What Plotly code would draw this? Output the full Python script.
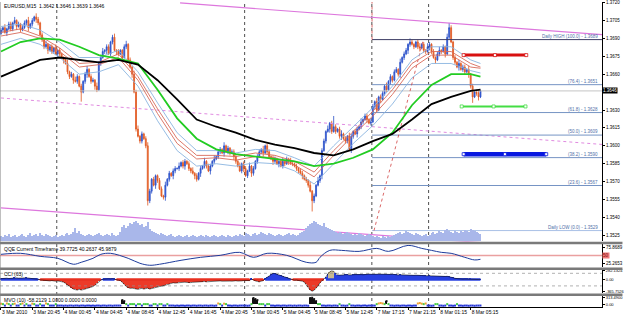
import plotly.graph_objects as go

# ------------------------------------------------------------------ data
closes = [
    1.3697, 1.3699, 1.3695, 1.3698, 1.3702, 1.3698, 1.3703, 1.3705, 1.3700, 1.3702,
    1.3697, 1.3699, 1.3703, 1.3705, 1.3699, 1.3702, 1.3705, 1.3708, 1.3706, 1.3703,
    1.3693, 1.3689, 1.3683, 1.3685, 1.3680, 1.3683, 1.3679, 1.3682, 1.3677, 1.3680,
    1.3677, 1.3674, 1.3672, 1.3669, 1.3662, 1.3658, 1.3660, 1.3655, 1.3654, 1.3658,
    1.3650, 1.3645, 1.3654, 1.3660, 1.3664, 1.3658, 1.3654, 1.3655, 1.3650, 1.3647,
    1.3669, 1.3674, 1.3679, 1.3680, 1.3683, 1.3677, 1.3687, 1.3691, 1.3680, 1.3679,
    1.3677, 1.3680, 1.3674, 1.3683, 1.3685, 1.3672, 1.3666, 1.3660, 1.3645, 1.3614,
    1.3608, 1.3604, 1.3610, 1.3606, 1.3600, 1.3554, 1.3562, 1.3572, 1.3567, 1.3575,
    1.3571, 1.3564, 1.3558, 1.3557, 1.3567, 1.3572, 1.3577, 1.3575, 1.3579, 1.3581,
    1.3581, 1.3583, 1.3586, 1.3583, 1.3587, 1.3585, 1.3581, 1.3579, 1.3577, 1.3575,
    1.3572, 1.3577, 1.3581, 1.3583, 1.3587, 1.3583, 1.3579, 1.3583, 1.3587, 1.3589,
    1.3591, 1.3595, 1.3597, 1.3594, 1.3600, 1.3595, 1.3598, 1.3594, 1.3595, 1.3591,
    1.3587, 1.3583, 1.3579, 1.3585, 1.3581, 1.3575, 1.3579, 1.3583, 1.3577, 1.3581,
    1.3587, 1.3591, 1.3595, 1.3597, 1.3594, 1.3600, 1.3595, 1.3591, 1.3589, 1.3587,
    1.3589, 1.3585, 1.3587, 1.3583, 1.3587, 1.3585, 1.3589, 1.3587, 1.3585, 1.3585,
    1.3583, 1.3581, 1.3579, 1.3577, 1.3575, 1.3572, 1.3571, 1.3567, 1.3562, 1.3554,
    1.3558, 1.3567, 1.3571, 1.3575, 1.3596, 1.3604, 1.3612, 1.3614, 1.3619, 1.3612,
    1.3616, 1.3612, 1.3614, 1.3608, 1.3610, 1.3606, 1.3604, 1.3608, 1.3597, 1.3608,
    1.3612, 1.3610, 1.3614, 1.3616, 1.3620, 1.3622, 1.3625, 1.3622, 1.3619, 1.3620,
    1.3633, 1.3637, 1.3630, 1.3641, 1.3639, 1.3644, 1.3650, 1.3647, 1.3654, 1.3658,
    1.3655, 1.3662, 1.3664, 1.3660, 1.3670, 1.3674, 1.3677, 1.3680, 1.3685, 1.3687,
    1.3685, 1.3683, 1.3687, 1.3683, 1.3682, 1.3685, 1.3680, 1.3679, 1.3683, 1.3685,
    1.3679, 1.3674, 1.3672, 1.3677, 1.3680, 1.3679, 1.3683, 1.3677, 1.3691, 1.3699,
    1.3687, 1.3674, 1.3670, 1.3666, 1.3669, 1.3664, 1.3666, 1.3662, 1.3664, 1.3660,
    1.3650, 1.3641, 1.3645, 1.3644, 1.3641, 1.3646,
]
first_open = 1.3694
wick_up_pips = ("2131221312" "1221312132" "1213122131" "2112312132" "1212312213"
                "2131221231" "2112312132" "3121232121" "1221312122" "1312212131"
                "2121312213" "1221312122" "2131221312" "1221312213" "2112312132"
                "1212212131" "2131221312" "9212312132" "1221312213" "2131221312"
                "1221312213" "2112312132" "1212312134" "2121312213" "121231")
wick_dn_pips = ("1213122131" "2112312132" "1221312213" "2131221312" "1812312132"
                "1212312213" "2131221312" "1221242213" "2112312132" "1212312213"
                "2131221312" "1221312213" "2112312132" "1212312213" "2131221312"
                "1221312219" "2112312132" "1212312213" "2131221312" "1221312213"
                "2112312132" "1212312213" "2131221312" "1221312213" "251231")
volumes = [
    250, 200, 300, 250, 350, 200, 250, 300, 200, 250, 300, 350, 250, 200, 300, 400, 250, 300, 350, 250,
    400, 300, 250, 350, 300, 250, 200, 250, 300, 200, 250, 300, 250, 350, 400, 300, 350, 450, 650, 400,
    500, 350, 300, 250, 300, 350, 300, 250, 300, 350, 400, 300, 250, 300, 350, 300, 250, 400, 300, 250,
    300, 450, 700, 800, 650, 750, 900, 850, 950, 1000, 900, 800, 850, 700, 750, 950, 600, 500, 450, 400,
    350, 300, 400, 350, 300, 250, 300, 350, 250, 200, 250, 300, 250, 200, 250, 300, 200, 250, 300, 250,
    200, 250, 300, 250, 200, 300, 250, 200, 250, 300, 250, 200, 250, 300, 250, 200, 300, 250, 200, 250,
    300, 250, 350, 300, 250, 400, 350, 300, 250, 350, 400, 300, 350, 450, 400, 350, 300, 400, 350, 300,
    250, 300, 350, 300, 250, 300, 350, 400, 300, 350, 300, 250, 300, 400, 450, 500, 650, 750, 850, 900,
    1000, 950, 850, 800, 750, 900, 700, 650, 600, 550, 500, 450, 400, 450, 400, 350, 400, 450, 400, 350,
    300, 350, 300, 400, 350, 300, 250, 300, 350, 300, 250, 200, 250, 200, 150, 250, 200, 150, 250, 200,
    250, 300, 350, 400, 450, 350, 400, 500, 450, 400, 350, 300, 400, 350, 300, 250, 300, 350, 250, 300,
    400, 450, 350, 400, 500, 450, 400, 550, 600, 500, 450, 400, 500, 450, 400, 500, 450, 550, 500, 450,
    600, 550, 500, 450, 400, 350,
]

x_tick_idx = [0, 16, 32, 48, 64, 80, 96, 112, 128, 144, 160, 176, 192, 208, 224, 240]
x_tick_text = ["3 Mar 2010", "3 Mar 20:45", "4 Mar 00:45", "4 Mar 04:45", "4 Mar 08:45",
               "4 Mar 12:45", "4 Mar 16:45", "4 Mar 20:45", "5 Mar 00:45", "5 Mar 04:45",
               "5 Mar 08:45", "5 Mar 12:45", "7 Mar 17:15", "7 Mar 21:15", "8 Mar 01:15",
               "8 Mar 05:15"]
price_ticks = [1.3720, 1.3705, 1.3690, 1.3675, 1.3660, 1.3630, 1.3615, 1.3600,
               1.3585, 1.3570, 1.3555, 1.3540, 1.3525]

ma_idx = [0, 10, 20, 30, 40, 50, 60, 70, 80, 90, 100, 110, 120, 130, 140, 150, 160,
          170, 180, 190, 200, 210, 220, 230, 240, 245]
ma_black = [1.3658, 1.3665, 1.3672, 1.3674, 1.3672, 1.3670, 1.3672, 1.3668, 1.3655, 1.3639,
            1.3622, 1.3616, 1.3611, 1.3605, 1.3601, 1.3598, 1.3594, 1.3592, 1.3597, 1.3604,
            1.3610, 1.3622, 1.3635, 1.3641, 1.3646, 1.3647]
ma_green = [1.3679, 1.3687, 1.3690, 1.3689, 1.3683, 1.3676, 1.3673, 1.3669, 1.3647, 1.3623,
            1.3606, 1.3597, 1.3593, 1.3591, 1.3589, 1.3587, 1.3583, 1.3585, 1.3590, 1.3597,
            1.3611, 1.3634, 1.3651, 1.3660, 1.3660, 1.3658]
band_blue_hi = [1.3700, 1.3702, 1.3697, 1.3687, 1.3674, 1.3674, 1.3680, 1.3662, 1.3636, 1.3611,
                1.3596, 1.3596, 1.3594, 1.3597, 1.3596, 1.3590, 1.3583, 1.3600, 1.3616, 1.3632,
                1.3650, 1.3672, 1.3683, 1.3683, 1.3672, 1.3669]
band_red_hi = [1.3695, 1.3698, 1.3692, 1.3682, 1.3669, 1.3670, 1.3677, 1.3658, 1.3631, 1.3606,
               1.3592, 1.3592, 1.3591, 1.3594, 1.3592, 1.3587, 1.3578, 1.3596, 1.3612, 1.3629,
               1.3647, 1.3669, 1.3679, 1.3679, 1.3669, 1.3666]
band_red_lo = [1.3692, 1.3695, 1.3690, 1.3679, 1.3666, 1.3668, 1.3674, 1.3655, 1.3627, 1.3602,
               1.3589, 1.3590, 1.3588, 1.3591, 1.3590, 1.3584, 1.3574, 1.3592, 1.3609, 1.3625,
               1.3643, 1.3665, 1.3676, 1.3676, 1.3666, 1.3665]
band_blue_lo = [1.3685, 1.3690, 1.3685, 1.3674, 1.3660, 1.3662, 1.3668, 1.3650, 1.3621, 1.3596,
                1.3583, 1.3585, 1.3583, 1.3586, 1.3585, 1.3579, 1.3568, 1.3585, 1.3602, 1.3617,
                1.3635, 1.3657, 1.3669, 1.3669, 1.3663, 1.3661]

separator_idx = [28.5, 124.5, 189.5, 218.5]
bid_price = 1.3646

fib_high, fib_low = 1.3689, 1.3529
fib_levels = [100.0, 76.4, 61.8, 50.0, 38.2, 23.6, 0.0]
fib_start_idx = 189.6
fib_trend_idx = [190.6, 215.8]
fib_trend_price = [1.3529, 1.3689]

chan_upper_idx, chan_upper_price = [91.5, 307.6], [1.37197, 1.36931]
chan_mid_idx, chan_mid_price = [0, 307.6], [1.36401, 1.36011]
chan_lower_idx, chan_lower_price = [0, 307.6], [1.35480, 1.35116]

red_zone_idx, red_zone_price = [236.4, 252.4, 268.4], 1.3676
green_zone_idx, green_zone_price = [235.4, 251.7, 268.0], 1.3633
blue_zone_idx, blue_zone_price = [236.4, 257.5, 278.6], 1.3593

qqe_idx = [0, 10, 20, 29, 37, 41, 47, 51, 56, 65, 71, 76, 81, 92, 102, 112, 122, 129, 136,
           146, 156, 161, 163, 168, 174, 183, 192, 198, 208, 215, 220, 225, 230, 237, 242, 245]
qqe_val = [53.8, 57, 47.4, 41.1, 22.2, 28.5, 41.1, 53.8, 57, 41.1, 25.3, 19, 22.2, 34.8, 44.3,
           50.6, 60.1, 44.3, 57, 50.6, 28.5, 28.5, 44.3, 66.4, 66.4, 63.2, 72.7, 63.2, 82.2,
           72.7, 66.4, 60.1, 57, 44.3, 36.0, 38.0]
qqe_level = 50

cci = [
    30, 40, 50, 45, 35, 40, 50, 60, 55, 45, 40, 50, 55, 60, 50, 40, 35, 30, 20,
    10, -10, -20, -30, -25, -35, -40, -30, -45, -50, -40, -55, -60,
    -80, -120, -170, -220, -260, -300, -320, -330, -310, -330, -320, -300, -290, -270, -250,
    -220, -180, -120, -60,
    -20, 10, 20, 30, 25, 20, 30, 15, -10, -20, -30,
    -80, -150, -220, -260, -280, -270, -290, -300, -310, -290, -280, -300, -290, -270, -300,
    -280, -260, -250, -240, -220, -210, -200, -180, -160, -140, -120, -100,
    -110, -100, -90, -95, -85, -80, -90, -100, -95, -85, -80, -70, -75, -80, -70, -60, -70,
    -65, -55, -50, -60, -55, -45, -40, -50, -45, -40, -35, -45, -50, -40, -35, -45, -50, -40,
    -30, -35,
    -40, -30, 20, -20, -40, -60, -70, -50, -30,
    30, 70, 120, 160, 200, 190, 170, 150, 130, 110, 90, 60, 30, 10,
    -10, -20, -15, -25, -30, -50,
    -80, -150, -250, -330, -366, -340, -280, -200, -100, -40, 0,
    80, 180, 250, 282, 260, 200, 150,
    140, 150, 145, 155, 160, 150, 145, 155, 160, 165, 170, 160, 155, 165, 170, 175, 170, 165,
    160, 170, 175, 170, 165, 160, 155, 160, 165, 170, 160, 155, 150, 155, 150, 145, 140, 150,
    145, 140, 135, 140, 130, 135, 130, 125, 130, 120, 125, 120, 115, 120, 110, 115, 110, 105,
    100, 105, 95, 90,
    60, 40, 30, 25, 20, 15, 20, 15, 10, 15, 10, 5, 10, 5, 10,
]
cci_levels = [200, -200]

mvo = [
    30, 10, -60, 40, 10, -60, 10, 30, -60, -60, 10, 40, -60, 10, -60, -60, 30, 10, -60, -60,
    10, -60, -60, 40, 10, -60, -60, -60, 10, -60,
    -60, -60, -70, -60, -70, -60, -60, -70, -60, -60, -70, -60, -60, -70, -60, -60, -70, -60,
    -70, -60, -60, -70, -60, -60, -70, -60, -60, -70, -60, -60,
    -60, -60, 200, 150, 10, -60, 10, 10, 10, -60, 10, 10, -60, 10, 10, 10, -60, -60, 10, 10,
    -60, 10, 10, -60, -60, 10, -60, -60, -60, -70,
    -60, -70, -60, -60, -70, -60, -60, -70, -60, -60, -70, -60, -60, -70, -60, -60, -70, -60,
    -60, -70, -60, 40, 10, -60, 30, 10, -60, -60, -70, -60,
    -60, -70, -60, -60, -60, -60, -70, -60, 10, 300, 250, 200, 10, 10, 10, -60, 10, 10, -60,
    -60, -70, -60, -60, -70, -60, -60, -70, -60, -60, -70,
    -60, -70, -60, -60, -70, -60, -60, -70, 300, 313, 250, 150, 10, 10, -60, -60, -70, -60,
    -60, -70, -60, -60, -70, 10, -60, -60, -70, -60, 10, -60,
    -60, -70, -60, -60, -70, -60, -60, -70, -60, -60, -60, -60, 10, 40, 60, 40, 10, 150, 10,
    -60, -60, -70, -60, -60, -70, -60, -60, -70, -60, -60,
    -70, -60, -60, 40, 60, 30, 10, 40, -60, -60, -70, -60, 10, 10, -60, -60, -70, -60, 10,
    -60, -60, -70, -60, 10, -60, -60, -70, -60, -60, -70,
    -60, -60, -70, -60, -60, -58,
]

# ------------------------------------------------------------------ derived
n = min(len(closes), len(wick_up_pips), len(wick_dn_pips))
idx = list(range(n))
opens = [first_open] + closes[:n - 1]
highs = [max(o, c) + int(u) / 10000 for o, c, u in zip(opens, closes[:n], wick_up_pips)]
lows = [min(o, c) - int(d) / 10000 for o, c, d in zip(opens, closes[:n], wick_dn_pips)]

X_RANGE = [-0.5, 307.1]
PLOT_H = 308.0


def py(p):  # pixel row -> paper y
    return 1 - p / PLOT_H


FONT = "Liberation Sans"
fig = go.Figure()

# volume (overlay at the bottom of the main window)
fig.add_trace(go.Bar(x=list(range(len(volumes))), y=volumes, yaxis="y2",
                     marker=dict(color="#a9b7ea", line=dict(width=0)), width=0.55,
                     hoverinfo="skip"))

# channel lines
fig.add_trace(go.Scatter(x=chan_upper_idx, y=chan_upper_price, mode="lines",
                         line=dict(color="#dd77dd", width=1.2), hoverinfo="skip"))
fig.add_trace(go.Scatter(x=chan_mid_idx, y=chan_mid_price, mode="lines",
                         line=dict(color="#e08ae0", width=1, dash="dot"), hoverinfo="skip"))
fig.add_trace(go.Scatter(x=chan_lower_idx, y=chan_lower_price, mode="lines",
                         line=dict(color="#dd77dd", width=1.2), hoverinfo="skip"))

# bid line
fig.add_trace(go.Scatter(x=X_RANGE, y=[bid_price, bid_price], mode="lines",
                         line=dict(color="#c4c4c4", width=1), hoverinfo="skip"))

# fibonacci levels
fib_right = X_RANGE[1]
for lvl in fib_levels:
    p = fib_low + (fib_high - fib_low) * lvl / 100
    if lvl == 100.0:
        col = "#3c3c64"
    elif lvl == 0.0:
        col = "#a9c0e6"
    else:
        col = "#7694c4"
    fig.add_trace(go.Scatter(x=[fib_start_idx, fib_right], y=[p, p], mode="lines",
                             line=dict(color=col, width=1), hoverinfo="skip"))
fig.add_trace(go.Scatter(x=fib_trend_idx, y=fib_trend_price, mode="lines",
                         line=dict(color="#d04040", width=0.8, dash="dot"), hoverinfo="skip"))
fig.add_trace(go.Scatter(x=[fib_start_idx, fib_start_idx], y=[fib_high, 1.3725], mode="lines",
                         line=dict(color="#d04040", width=0.8, dash="dot"), hoverinfo="skip"))

# moving averages / bands
for vals, col, w in [(band_blue_hi, "#8ab4e0", 0.9), (band_blue_lo, "#8ab4e0", 0.9),
                     (band_red_hi, "#d86a5a", 0.9), (band_red_lo, "#d86a5a", 0.9),
                     (ma_green, "#22cc22", 1.8), (ma_black, "#000000", 1.8)]:
    fig.add_trace(go.Scatter(x=ma_idx, y=vals, mode="lines", line=dict(color=col, width=w),
                             hoverinfo="skip"))

# candles
fig.add_trace(go.Candlestick(
    x=idx, open=opens, high=highs, low=lows, close=closes[:n],
    increasing=dict(line=dict(color="#2a4fc8", width=0.8), fillcolor="#3a62dc"),
    decreasing=dict(line=dict(color="#e0561e", width=0.8), fillcolor="#f07a40"),
    whiskerwidth=0, hoverinfo="skip"))

# zones
for zx, zp, col, w in [(red_zone_idx, red_zone_price, "#d81010", 3),
                       (green_zone_idx, green_zone_price, "#44dd44", 2),
                       (blue_zone_idx, blue_zone_price, "#0818e0", 4.5)]:
    fig.add_trace(go.Scatter(x=zx, y=[zp] * len(zx), mode="lines+markers",
                             line=dict(color=col, width=w),
                             marker=dict(symbol="square", size=3, color="white",
                                         line=dict(color=col, width=0.8)),
                             hoverinfo="skip"))

# QQE
fig.add_trace(go.Scatter(x=X_RANGE, y=[qqe_level, qqe_level], yaxis="y3", mode="lines",
                         line=dict(color="#eaa0a0", width=1.5), hoverinfo="skip"))
fig.add_trace(go.Scatter(x=qqe_idx, y=qqe_val, yaxis="y3", mode="lines",
                         line=dict(color="#1e3c9c", width=1), line_shape="spline",
                         hoverinfo="skip"))

# CCI
for lv in cci_levels:
    fig.add_trace(go.Scatter(x=X_RANGE, y=[lv, lv], yaxis="y4", mode="lines",
                             line=dict(color="#909090", width=0.7, dash="dot"), hoverinfo="skip"))
cci_cols = ["#c9b98e" if v >= 230 else ("#2840e0" if v > 0 else "#ec3a28") for v in cci]
fig.add_trace(go.Bar(x=list(range(len(cci))), y=cci, yaxis="y4", width=0.8,
                     marker=dict(color=cci_cols, line=dict(width=0)), hoverinfo="skip"))
zero_blue = [0 if v > 0 else None for v in cci]
zero_red = [0 if v <= 0 else None for v in cci]
fig.add_trace(go.Scatter(x=list(range(len(cci))), y=zero_red, yaxis="y4", mode="lines",
                         line=dict(color="#e83020", width=2.5), connectgaps=False,
                         hoverinfo="skip"))
fig.add_trace(go.Scatter(x=list(range(len(cci))), y=zero_blue, yaxis="y4", mode="lines",
                         line=dict(color="#2840e0", width=2.5), connectgaps=False,
                         hoverinfo="skip"))
fig.add_trace(go.Scatter(x=list(range(len(cci))), y=cci, yaxis="y4", mode="lines",
                         line=dict(color="#111111", width=0.6), hoverinfo="skip"))

# MVO
mvo_x = list(range(len(mvo)))
mvo_cols = ["#111111" if v > 100 else ("#f0a030" if v > 25 else ("#44cc44" if v > -25 else "#2838d8"))
            for v in mvo]
big_x = [i for i, v in zip(mvo_x, mvo) if v > 100]
big_v = [v for v in mvo if v > 100]
fig.add_trace(go.Bar(x=big_x, y=big_v, yaxis="y5", width=0.6,
                     marker=dict(color="#111111", line=dict(width=0)), hoverinfo="skip"))
fig.add_trace(go.Scatter(x=mvo_x, y=mvo, yaxis="y5", mode="markers",
                         marker=dict(symbol="square", size=2, color=mvo_cols, line=dict(width=0)),
                         hoverinfo="skip"))

# ------------------------------------------------------------------ layout
axis_common = dict(showgrid=False, zeroline=False, fixedrange=True)
fig.update_layout(
    width=625, height=318,
    margin=dict(l=0, r=20, t=0, b=10),
    paper_bgcolor="white", plot_bgcolor="white",
    showlegend=False, bargap=0,
    font=dict(family=FONT, size=5, color="black"),
    xaxis=dict(domain=[0, 1], range=X_RANGE, anchor="y5", tickvals=x_tick_idx,
               ticktext=x_tick_text, ticklabelposition="outside right", ticks="outside",
               tickangle=0, ticklen=2, tickcolor="black", tickfont=dict(size=5, family=FONT),
               showline=True, linecolor="black", linewidth=1,
               rangeslider=dict(visible=False), **axis_common),
    yaxis=dict(domain=[py(241), 1], range=[1.35199, 1.37205], side="right", anchor="x",
               tickvals=price_ticks, ticktext=[f"{v:.4f}" for v in price_ticks],
               ticks="outside", ticklen=2, tickcolor="black",
               tickfont=dict(size=4.5, family=FONT),
               showline=True, linecolor="black", linewidth=1, **axis_common),
    yaxis2=dict(overlaying="y", range=[0, 12000], visible=False, **axis_common),
    yaxis3=dict(domain=[py(267), py(244)], range=[12.67, 85.35], side="right", anchor="x",
                tickvals=[75.8689, 25.2653], ticktext=["75.8689", "25.2653"],
                ticks="outside", ticklen=2, tickcolor="black",
                tickfont=dict(size=4.5, family=FONT),
                showline=True, linecolor="black", linewidth=1, **axis_common),
    yaxis4=dict(domain=[py(293), py(270)], range=[-429, 298], side="right", anchor="x",
                tickvals=[282.1324, 0, -365.7526],
                ticktext=["282.1324", "0.00", "-365.7526"],
                ticks="outside", ticklen=2, tickcolor="black",
                tickfont=dict(size=4, family=FONT),
                showline=True, linecolor="black", linewidth=1, **axis_common),
    yaxis5=dict(domain=[py(307), py(296)], range=[-128, 394], side="right", anchor="x",
                tickvals=[313.49, 0], ticktext=["313.4900", "0.00"],
                ticks="outside", ticklen=2, tickcolor="black",
                tickfont=dict(size=4, family=FONT),
                showline=True, linecolor="black", linewidth=1, **axis_common),
)

shapes = []
# window separators
for top, bot in [(241.3, 243.8), (267.3, 269.8), (293.3, 295.8)]:
    shapes.append(dict(type="rect", xref="paper", yref="paper", x0=0, x1=1.034,
                       y0=py(bot), y1=py(top), fillcolor="#7a7a7a", line=dict(width=0),
                       layer="above"))
shapes.append(dict(type="line", xref="paper", yref="paper", x0=0, x1=0, y0=0, y1=1,
                   line=dict(color="#808080", width=1)))
# period separators
for s in separator_idx:
    shapes.append(dict(type="line", xref="x", yref="paper", x0=s, x1=s, y0=py(307), y1=1,
                       line=dict(color="#222222", width=0.8, dash="dot"), layer="below"))
fig.update_layout(shapes=shapes)

ann = []
ann.append(dict(xref="paper", yref="paper", x=0.004, y=py(4.5), xanchor="left", yanchor="middle",
                text="EURUSD,M15  1.3642 1.3646 1.3639 1.3646", showarrow=False,
                font=dict(size=5, family=FONT, color="black")))
ann.append(dict(xref="paper", yref="paper", x=0.004, y=py(248.5), xanchor="left",
                yanchor="middle", text="QQE Current Timeframe 39.7725 40.2637 45.9879",
                showarrow=False, font=dict(size=5, family=FONT, color="black")))
ann.append(dict(xref="paper", yref="paper", x=0.004, y=py(273.5), xanchor="left",
                yanchor="middle", text="CCI (63)", showarrow=False,
                font=dict(size=5, family=FONT, color="black")))
ann.append(dict(xref="paper", yref="paper", x=0.004, y=py(299.8), xanchor="left",
                yanchor="middle", text="MVO (10) -58.2129 1.0000 0.0000 0.0000",
                showarrow=False, font=dict(size=5, family=FONT, color="black")))
for lvl in fib_levels:
    p = fib_low + (fib_high - fib_low) * lvl / 100
    if lvl == 100.0:
        label = f"Daily HIGH ({lvl:.1f}) - {p:.4f}"
    elif lvl == 0.0:
        label = f"Daily LOW ({lvl:.1f}) - {p:.4f}"
    else:
        label = f"({lvl:.1f}) - {p:.4f}"
    ann.append(dict(xref="paper", yref="y", x=0.996, y=p, xanchor="right", yanchor="bottom",
                    text=label, showarrow=False, yshift=-1,
                    font=dict(size=4.5, family=FONT, color="#4f6fa8")))
ann.append(dict(xref="paper", yref="y", x=1.0, y=bid_price, xanchor="left", yanchor="middle",
                text=f"{bid_price:.4f}", showarrow=False, bgcolor="black", borderpad=0,
                font=dict(size=4.5, family=FONT, color="white")))
ann.append(dict(xref="paper", yref="y3", x=1.0, y=qqe_level, xanchor="left", yanchor="middle",
                text=str(qqe_level), showarrow=False, bgcolor="#f07878", borderpad=0,
                font=dict(size=4.5, family=FONT, color="#801010")))
fig.update_layout(annotations=ann)

fig.write_html("out.html")
